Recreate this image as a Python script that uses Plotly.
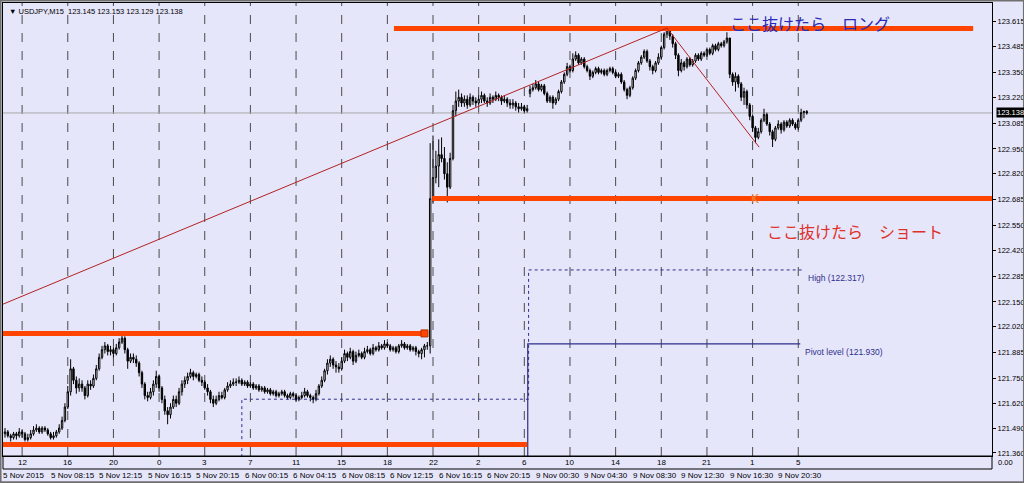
import plotly.graph_objects as go

# ---------------- data (USDJPY M15) ----------------
first_open = 121.46
monday_open = 123.24

closes = [
    121.47, 121.45, 121.44, 121.46, 121.45, 121.47, 121.46, 121.43, 121.44, 121.46,
    121.48, 121.49, 121.47, 121.49, 121.48, 121.46, 121.44, 121.45, 121.47, 121.49,
    121.53, 121.60, 121.68, 121.80, 121.74, 121.70, 121.72,
    121.70, 121.66, 121.72, 121.71, 121.75,
    121.80, 121.86, 121.90, 121.92, 121.89,
    121.90, 121.88, 121.91, 121.94, 121.96, 121.90,
    121.84, 121.86, 121.85, 121.83, 121.78, 121.72, 121.66, 121.65,
    121.68, 121.72, 121.76, 121.70,
    121.64, 121.58, 121.56, 121.60,
    121.64, 121.62, 121.68, 121.72, 121.74, 121.76,
    121.78, 121.76, 121.77, 121.74, 121.73, 121.70,
    121.68, 121.64, 121.62, 121.64,
    121.66, 121.65, 121.69, 121.71, 121.72, 121.73,
    121.73, 121.74, 121.72, 121.73, 121.71, 121.72, 121.70, 121.71, 121.69, 121.70,
    121.68, 121.69, 121.67, 121.68, 121.66, 121.67, 121.68, 121.66, 121.65, 121.67,
    121.66, 121.64, 121.65,
    121.66, 121.68, 121.66, 121.65, 121.64, 121.67,
    121.71, 121.74, 121.79, 121.83, 121.85, 121.82, 121.81,
    121.80, 121.84, 121.88, 121.86, 121.89, 121.84,
    121.87, 121.88, 121.86, 121.89, 121.90, 121.88, 121.91, 121.90, 121.92, 121.91,
    121.93, 121.92, 121.90, 121.91, 121.89, 121.92, 121.93, 121.91, 121.92, 121.90,
    121.91, 121.89, 121.88, 121.90, 121.92,
    121.92, 122.69, 122.80, 122.86, 122.92, 122.90, 122.82, 122.75, 122.90, 123.15,
    123.20,
    123.22, 123.19, 123.21, 123.18, 123.22, 123.20, 123.19, 123.21, 123.23, 123.20,
    123.19, 123.22, 123.21, 123.23, 123.22, 123.20, 123.21, 123.19, 123.18, 123.19,
    123.17, 123.16, 123.17, 123.15, 123.16,
    123.26, 123.27, 123.29, 123.26, 123.28, 123.24, 123.20, 123.22, 123.19, 123.21,
    123.25, 123.30, 123.34, 123.38, 123.36, 123.42, 123.44, 123.40, 123.42, 123.38,
    123.36, 123.33, 123.35, 123.37, 123.35, 123.36, 123.34, 123.36, 123.37, 123.35,
    123.33, 123.34, 123.30, 123.26, 123.23, 123.27, 123.32, 123.36, 123.40, 123.43,
    123.46, 123.41, 123.38, 123.36, 123.40, 123.43, 123.48, 123.55, 123.58,
    123.54, 123.50, 123.44, 123.36, 123.40, 123.38, 123.42, 123.39, 123.41, 123.44,
    123.42, 123.45, 123.44, 123.47, 123.45, 123.49, 123.47, 123.50, 123.49, 123.51,
    123.53, 123.34, 123.30, 123.33, 123.29, 123.22, 123.25, 123.18, 123.12, 123.06,
    123.01, 123.04, 123.10, 123.13, 123.08, 123.04, 123.00, 123.06, 123.08, 123.05,
    123.09, 123.07, 123.10, 123.08, 123.06, 123.10, 123.14, 123.145, 123.138,
]

highs = [
    121.49, 121.48, 121.46, 121.47, 121.47, 121.49, 121.48, 121.47, 121.46, 121.48,
    121.50, 121.51, 121.50, 121.50, 121.50, 121.49, 121.47, 121.47, 121.48, 121.51,
    121.55, 121.62, 121.71, 121.85, 121.81, 121.76, 121.75,
    121.74, 121.71, 121.74, 121.74, 121.77,
    121.82, 121.88, 121.92, 121.94, 121.93,
    121.92, 121.91, 121.93, 121.96, 121.99, 121.97,
    121.91, 121.88, 121.88, 121.87, 121.84, 121.79, 121.73, 121.68,
    121.70, 121.74, 121.79, 121.77,
    121.71, 121.66, 121.60, 121.62,
    121.66, 121.66, 121.70, 121.74, 121.76, 121.78,
    121.80, 121.79, 121.78, 121.78, 121.76, 121.74,
    121.72, 121.69, 121.66, 121.66,
    121.68, 121.68, 121.70, 121.73, 121.74, 121.75,
    121.75, 121.76, 121.75, 121.74, 121.74, 121.73, 121.73, 121.72, 121.72, 121.71,
    121.71, 121.70, 121.70, 121.69, 121.69, 121.68, 121.69, 121.69, 121.67, 121.68,
    121.68, 121.67, 121.66,
    121.68, 121.70, 121.69, 121.67, 121.66, 121.69,
    121.72, 121.76, 121.80, 121.85, 121.87, 121.86, 121.84,
    121.83, 121.86, 121.90, 121.89, 121.91, 121.90,
    121.89, 121.90, 121.89, 121.91, 121.92, 121.91, 121.93, 121.92, 121.94, 121.93,
    121.95, 121.94, 121.93, 121.92, 121.92, 121.93, 121.95, 121.94, 121.93, 121.93,
    121.92, 121.92, 121.90, 121.91, 121.93,
    121.94, 122.98, 123.02, 122.94, 123.00, 123.01, 122.96, 122.88, 122.93, 123.18,
    123.25,
    123.26, 123.24, 123.23, 123.23, 123.24, 123.23, 123.22, 123.23, 123.25, 123.24,
    123.22, 123.24, 123.23, 123.25, 123.24, 123.23, 123.23, 123.22, 123.21, 123.21,
    123.20, 123.19, 123.19, 123.18, 123.18,
    123.28, 123.29, 123.31, 123.30, 123.29, 123.29, 123.25, 123.23, 123.23, 123.22,
    123.26, 123.31, 123.35, 123.40, 123.39, 123.45, 123.46, 123.45, 123.43, 123.43,
    123.39, 123.37, 123.36, 123.38, 123.38, 123.37, 123.37, 123.37, 123.38, 123.38,
    123.36, 123.35, 123.35, 123.31, 123.27, 123.28, 123.33, 123.37, 123.41, 123.44,
    123.47, 123.47, 123.42, 123.39, 123.41, 123.45, 123.49, 123.56, 123.59,
    123.58, 123.55, 123.51, 123.45, 123.42, 123.41, 123.43, 123.43, 123.42, 123.45,
    123.45, 123.46, 123.46, 123.48, 123.48, 123.50, 123.50, 123.51, 123.51, 123.52,
    123.56, 123.53, 123.35, 123.35, 123.34, 123.30, 123.27, 123.26, 123.19, 123.13,
    123.07, 123.06, 123.11, 123.16, 123.14, 123.09, 123.05, 123.07, 123.10, 123.09,
    123.10, 123.10, 123.11, 123.11, 123.09, 123.11, 123.16, 123.15, 123.153,
]

lows = [
    121.44, 121.44, 121.42, 121.43, 121.43, 121.44, 121.44, 121.42, 121.42, 121.43,
    121.45, 121.47, 121.46, 121.46, 121.47, 121.45, 121.43, 121.43, 121.44, 121.46,
    121.48, 121.52, 121.59, 121.66, 121.72, 121.67, 121.68,
    121.68, 121.64, 121.65, 121.69, 121.70,
    121.74, 121.79, 121.85, 121.88, 121.87,
    121.87, 121.86, 121.87, 121.90, 121.93, 121.88,
    121.80, 121.83, 121.83, 121.81, 121.76, 121.70, 121.64, 121.63,
    121.64, 121.66, 121.70, 121.68,
    121.62, 121.56, 121.51, 121.54,
    121.59, 121.60, 121.61, 121.66, 121.70, 121.72,
    121.75, 121.74, 121.75, 121.73, 121.71, 121.69,
    121.66, 121.62, 121.60, 121.61,
    121.63, 121.64, 121.64, 121.68, 121.70, 121.71,
    121.71, 121.72, 121.71, 121.71, 121.70, 121.70, 121.69, 121.69, 121.68, 121.68,
    121.67, 121.67, 121.66, 121.66, 121.65, 121.65, 121.66, 121.65, 121.64, 121.64,
    121.65, 121.63, 121.63,
    121.64, 121.65, 121.65, 121.63, 121.62, 121.63,
    121.66, 121.70, 121.73, 121.77, 121.81, 121.80, 121.78,
    121.78, 121.79, 121.83, 121.84, 121.85, 121.82,
    121.83, 121.86, 121.85, 121.85, 121.88, 121.87, 121.87, 121.89, 121.89, 121.90,
    121.90, 121.91, 121.89, 121.89, 121.88, 121.88, 121.91, 121.90, 121.90, 121.89,
    121.89, 121.87, 121.86, 121.85, 121.86,
    121.90, 121.88, 122.67, 122.77, 122.75, 122.88, 122.79, 122.67, 122.74, 122.89,
    123.12,
    123.17, 123.17, 123.17, 123.16, 123.17, 123.18, 123.17, 123.18, 123.19, 123.19,
    123.17, 123.18, 123.19, 123.20, 123.20, 123.18, 123.19, 123.17, 123.16, 123.16,
    123.15, 123.14, 123.15, 123.14, 123.14,
    123.22, 123.25, 123.26, 123.25, 123.25, 123.23, 123.19, 123.19, 123.16, 123.18,
    123.20, 123.24, 123.29, 123.33, 123.35, 123.35, 123.41, 123.39, 123.39, 123.37,
    123.35, 123.31, 123.32, 123.34, 123.34, 123.34, 123.33, 123.33, 123.35, 123.34,
    123.32, 123.32, 123.29, 123.25, 123.21, 123.22, 123.26, 123.31, 123.35, 123.39,
    123.42, 123.40, 123.36, 123.34, 123.35, 123.39, 123.42, 123.47, 123.53,
    123.52, 123.48, 123.42, 123.33, 123.35, 123.36, 123.37, 123.38, 123.38, 123.40,
    123.41, 123.41, 123.43, 123.43, 123.44, 123.44, 123.46, 123.46, 123.48, 123.48,
    123.50, 123.32, 123.28, 123.25, 123.27, 123.20, 123.18, 123.16, 123.10, 123.04,
    122.98, 123.00, 123.03, 123.09, 123.07, 123.02, 122.96, 122.99, 123.05, 123.03,
    123.04, 123.06, 123.06, 123.07, 123.05, 123.05, 123.09, 123.11, 123.129,
]

monday_bar = 184

# axis labels
price_ticks = [123.615, 123.485, 123.350, 123.220, 123.085, 122.950, 122.820, 122.685, 122.550,
               122.420, 122.285, 122.150, 122.020, 121.885, 121.750, 121.620, 121.490, 121.360]
hour_labels = ["12", "16", "20", "0", "3", "7", "11", "15", "18", "22", "2", "6", "10", "14",
               "18", "21", "1", "5"]
hour_bars = [6 + 16 * k for k in range(len(hour_labels))]
date_labels = ["5 Nov 2015", "5 Nov 08:15", "5 Nov 12:15", "5 Nov 16:15", "5 Nov 20:15",
               "6 Nov 00:15", "6 Nov 04:15", "6 Nov 08:15", "6 Nov 12:15", "6 Nov 16:15",
               "6 Nov 20:15", "9 Nov 00:30", "9 Nov 04:30", "9 Nov 08:30", "9 Nov 12:30",
               "9 Nov 16:30", "9 Nov 20:30"]
date_bars = [-0.7, 16, 33, 50, 67, 84, 101, 118, 135, 152, 169, 186, 203, 220, 237, 254, 271]

# drawn objects (price levels)
long_level = 123.58
short_level = 122.69
upper_left_level = 121.985
lower_left_level = 121.404
trend_prices = [122.138, 123.582, 122.959]
trend_bars = [-0.7, 232.0, 264.3]
prev_high = 121.641
day_high = 122.317
pivot_level = 121.930
bid = 123.138

# ---------------- figure ----------------
n = len(closes)
bars = list(range(n))
opens = [first_open] + closes[:-1]
opens[monday_bar] = monday_open
highs = [max(h, o, c) for h, o, c in zip(highs, opens, closes)]
lows = [min(l, o, c) for l, o, c in zip(lows, opens, closes)]

BG = "#E6E6FA"
RED = "#FF4500"
NAVY = "#2E2E8C"
X0, X1 = -0.7, 345.9
Y0, Y1 = 121.344, 123.713
SMALL = "Liberation Sans, Arial, sans-serif"

fig = go.Figure()

def hline(xs, ys, color, width, dash="solid"):
    fig.add_trace(go.Scatter(x=xs, y=ys, mode="lines", hoverinfo="skip",
                             line=dict(color=color, width=width, dash=dash), showlegend=False))

# pivot lines (behind candles)
hline([83, 83, 183.5, 183.5, 279.7], [Y0 - 0.1, prev_high, prev_high, day_high, day_high], NAVY, 1, "dot")
hline([183.2, 183.2, 278.7], [Y0 - 0.1, pivot_level, pivot_level], NAVY, 1.2)

fig.add_trace(go.Candlestick(
    x=bars, open=opens, high=highs, low=lows, close=closes,
    increasing=dict(line=dict(color="black", width=1), fillcolor="white"),
    decreasing=dict(line=dict(color="black", width=1), fillcolor="black"),
    whiskerwidth=0, showlegend=False, hoverinfo="skip"))

# thick horizontal levels
hline([136.3, 339.3], [long_level] * 2, RED, 5)
hline([149.7, X1 + 5], [short_level] * 2, RED, 5)
hline([X0 - 2, 147.2], [upper_left_level] * 2, RED, 5)
hline([X0 - 2, 183.0], [lower_left_level] * 2, RED, 5)
fig.add_trace(go.Scatter(x=[147.0], y=[upper_left_level], mode="markers", hoverinfo="skip",
                         marker=dict(symbol="square", size=7, color=RED,
                                     line=dict(color="#B03000", width=1)), showlegend=False))
# trend lines
hline(trend_bars, trend_prices, "#B22222", 1)

shapes = []
for b in hour_bars:
    shapes.append(dict(type="line", xref="x", yref="paper", x0=b, x1=b, y0=0, y1=1,
                       line=dict(color="#4A4A4A", width=1, dash="dash"), layer="below"))
shapes.append(dict(type="line", xref="paper", yref="y", x0=0, x1=1, y0=bid, y1=bid,
                   line=dict(color="#A8A8A8", width=1), layer="below"))
# indicator sub-window under the main chart
shapes.append(dict(type="rect", xref="paper", yref="paper", x0=0, x1=1, y0=-0.0287, y1=0,
                   line=dict(color="black", width=1)))
# outer frame
shapes.append(dict(type="rect", xref="paper", yref="paper", x0=-0.0025, x1=1.0323, y0=-0.058, y1=1.0055,
                   line=dict(color="#707070", width=2)))

ann = []
for b, t in zip(hour_bars, hour_labels):
    ann.append(dict(x=b, y=-0.0135, xref="x", yref="paper", text=t, showarrow=False,
                    xanchor="center", yanchor="middle", font=dict(family=SMALL, size=8, color="black")))
for b, t in zip(date_bars, date_labels):
    ann.append(dict(x=b, y=-0.044, xref="x", yref="paper", text=t, showarrow=False,
                    xanchor="left", yanchor="middle", xshift=-2,
                    font=dict(family=SMALL, size=8, color="black")))
ann.append(dict(x=0.004, y=0.9965, xref="paper", yref="paper", showarrow=False, xanchor="left",
                yanchor="top", text="▼ USDJPY,M15  123.145 123.153 123.129 123.138",
                font=dict(family=SMALL, size=7.5, color="black")))
ann.append(dict(x=253.4, y=123.608, xref="x", yref="y", text="ここ抜けたら　ロング", showarrow=False,
                xanchor="left", yanchor="middle", font=dict(family="Noto Sans CJK JP", size=16, color="#2A2AB8")))
ann.append(dict(x=266.4, y=122.52, xref="x", yref="y", text="ここ抜けたら　ショート", showarrow=False,
                xanchor="left", yanchor="middle", font=dict(family="Noto Sans CJK JP", size=16, color="#E0302A")))
ann.append(dict(x=263.0, y=short_level, xref="x", yref="y", text="K", showarrow=False,
                xanchor="center", yanchor="middle", font=dict(family="DejaVu Sans", size=12, color="#F08030")))
ann.append(dict(x=280.8, y=day_high, xref="x", yref="y", text="High (122.317)", showarrow=False,
                xanchor="left", yanchor="top", yshift=-1, font=dict(family=SMALL, size=8.5, color=NAVY)))
ann.append(dict(x=279.5, y=pivot_level, xref="x", yref="y", text="Pivot level (121.930)", showarrow=False,
                xanchor="left", yanchor="top", yshift=-1, font=dict(family=SMALL, size=8.5, color=NAVY)))
ann.append(dict(x=1.004, y=bid, xref="paper", yref="y", text="123.138", showarrow=False,
                xanchor="left", yanchor="middle", bgcolor="black", borderpad=0,
                font=dict(family=SMALL, size=7.5, color="white")))
ann.append(dict(x=1.004, y=-0.015, xref="paper", yref="paper", text="0.00", showarrow=False,
                xanchor="left", yanchor="middle", font=dict(family=SMALL, size=7.5, color="black")))

fig.update_layout(
    template="none",
    width=1024, height=483,
    margin=dict(l=3, r=32, t=3, b=27, autoexpand=False),
    paper_bgcolor=BG, plot_bgcolor=BG,
    shapes=shapes, annotations=ann,
    xaxis=dict(range=[X0, X1], showgrid=False, zeroline=False, showticklabels=False,
               rangeslider=dict(visible=False), showline=True, mirror=True, linecolor="black",
               linewidth=1, fixedrange=True, automargin=False, ticks=""),
    yaxis=dict(range=[Y0, Y1], side="right", showgrid=False, zeroline=False,
               tickvals=price_ticks, ticktext=[f"{v:.3f}" for v in price_ticks],
               ticks="outside", ticklen=3, tickcolor="black", automargin=False,
               tickfont=dict(family=SMALL, size=7.5, color="black"),
               showline=True, mirror=True, linecolor="black", linewidth=1, fixedrange=True),
)

fig.write_html("out.html",
               config={"displayModeBar": False, "staticPlot": True},
               post_script="document.body.style.margin='0px';"
                           "document.documentElement.style.overflow='hidden';"
                           "document.body.style.background='" + BG + "';")
